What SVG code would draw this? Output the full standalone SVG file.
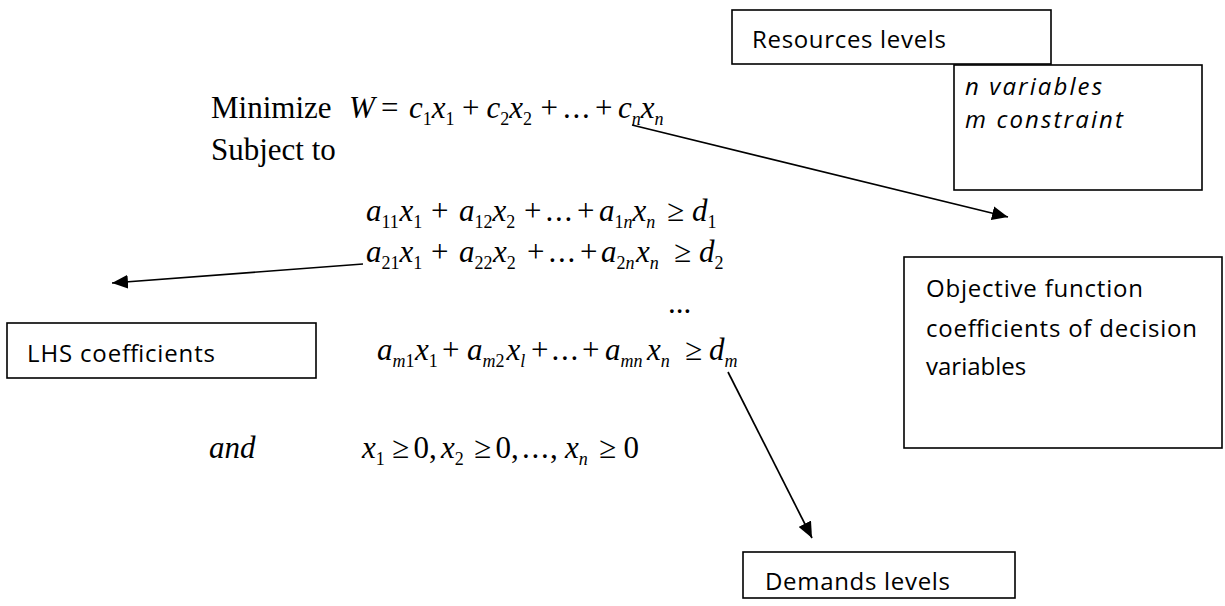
<svg xmlns="http://www.w3.org/2000/svg" width="1225" height="606" viewBox="0 0 1225 606">
<style>
.box{fill:#fff;stroke:#000;stroke-width:1.6}
.lbl{font-family:"Open Sans","Liberation Sans",sans-serif;font-size:24px;fill:#000}
.it{font-style:italic}
.m{font-family:"Liberation Serif","Times New Roman",serif;font-size:31px;fill:#000}
.s{font-size:18px}
.conn{stroke:#000;stroke-width:1.7;fill:none;marker-end:url(#ah)}
</style>
<defs>
<marker id="ah" markerUnits="userSpaceOnUse" markerWidth="18" markerHeight="14" refX="16" refY="7" orient="auto">
<path d="M0,0 L16,7 L0,14 Z" fill="#000"/>
</marker>
</defs>
<rect width="1225" height="606" fill="#fff"/>

<g id="equations">
<text class="m" y="118"><tspan x="211">Minimize</tspan><tspan class="it" x="349">W</tspan><tspan x="381">=</tspan><tspan class="it" x="409">c</tspan><tspan class="s" x="422.8" y="125">1</tspan><tspan class="it" x="431.8" y="118">x</tspan><tspan class="s" x="445.6" y="125">1</tspan><tspan x="462" y="118">+</tspan><tspan class="it" x="486.5">c</tspan><tspan class="s" x="500.3" y="125">2</tspan><tspan class="it" x="509.3" y="118">x</tspan><tspan class="s" x="523.1" y="125">2</tspan><tspan x="540.5" y="118">+</tspan><tspan x="563 572.5 582">...</tspan><tspan x="595">+</tspan><tspan class="it" x="618">c</tspan><tspan class="s it" x="631.8" y="125">n</tspan><tspan class="it" x="640.8" y="118">x</tspan><tspan class="s it" x="654.6" y="125">n</tspan></text>
<text class="m" x="211" y="160">Subject to</text>

<text class="m" y="221"><tspan class="it" x="366">a</tspan><tspan class="s" x="381.5" y="228">11</tspan><tspan class="it" x="399.5" y="221">x</tspan><tspan class="s" x="413.3" y="228">1</tspan><tspan x="431" y="221">+</tspan><tspan class="it" x="459">a</tspan><tspan class="s" x="474.5" y="228">12</tspan><tspan class="it" x="492.5" y="221">x</tspan><tspan class="s" x="506.3" y="228">2</tspan><tspan x="524" y="221">+</tspan><tspan x="545.5 555 564.5">...</tspan><tspan x="577">+</tspan><tspan class="it" x="599">a</tspan><tspan class="s" x="614.5" y="228">1</tspan><tspan class="s it" x="623.5" y="228">n</tspan><tspan class="it" x="632.5" y="221">x</tspan><tspan class="s it" x="646.3" y="228">n</tspan><tspan x="667" y="221">≥</tspan><tspan class="it" x="692">d</tspan><tspan class="s" x="707.5" y="228">1</tspan></text>

<text class="m" y="262"><tspan class="it" x="366">a</tspan><tspan class="s" x="381.5" y="269">21</tspan><tspan class="it" x="399.5" y="262">x</tspan><tspan class="s" x="413.3" y="269">1</tspan><tspan x="431" y="262">+</tspan><tspan class="it" x="459">a</tspan><tspan class="s" x="474.5" y="269">22</tspan><tspan class="it" x="493" y="262">x</tspan><tspan class="s" x="506.8" y="269">2</tspan><tspan x="527" y="262">+</tspan><tspan x="548.5 558 567.5">...</tspan><tspan x="580">+</tspan><tspan class="it" x="601">a</tspan><tspan class="s" x="616.5" y="269">2</tspan><tspan class="s it" x="625.5" y="269">n</tspan><tspan class="it" x="636" y="262">x</tspan><tspan class="s it" x="649.8" y="269">n</tspan><tspan x="674" y="262">≥</tspan><tspan class="it" x="699">d</tspan><tspan class="s" x="714.5" y="269">2</tspan></text>

<text class="m" x="668" y="313">...</text>

<text class="m" y="360"><tspan class="it" x="377">a</tspan><tspan class="s it" x="392.5" y="367">m</tspan><tspan class="s" x="405.5" y="367">1</tspan><tspan class="it" x="415" y="360">x</tspan><tspan class="s" x="428.8" y="367">1</tspan><tspan x="442" y="360">+</tspan><tspan class="it" x="467">a</tspan><tspan class="s it" x="482.5" y="367">m</tspan><tspan class="s" x="495.5" y="367">2</tspan><tspan class="it" x="506.5" y="360">x</tspan><tspan class="s it" x="520.3" y="367">l</tspan><tspan x="531" y="360">+</tspan><tspan x="551.5 561 570.5">...</tspan><tspan x="582">+</tspan><tspan class="it" x="605">a</tspan><tspan class="s it" x="620.5" y="367">mn</tspan><tspan class="it" x="647" y="360">x</tspan><tspan class="s it" x="660.8" y="367">n</tspan><tspan x="685" y="360">≥</tspan><tspan class="it" x="709">d</tspan><tspan class="s it" x="724.5" y="367">m</tspan></text>

<text class="m" y="458"><tspan class="it" x="209">and</tspan><tspan class="it" x="362">x</tspan><tspan class="s" x="375.8" y="465">1</tspan><tspan x="392" y="458">≥</tspan><tspan x="413.5">0,</tspan><tspan class="it" x="441">x</tspan><tspan class="s" x="454.8" y="465">2</tspan><tspan x="474" y="458">≥</tspan><tspan x="495.5">0,</tspan><tspan x="522 531.5 541 550">...,</tspan><tspan class="it" x="565">x</tspan><tspan class="s it" x="578.8" y="465">n</tspan><tspan x="599" y="458">≥</tspan><tspan x="623.5">0</tspan></text>
</g>

<g id="resources">
<rect class="box" x="732" y="10" width="319" height="54"/>
<text class="lbl" x="752" y="48" textLength="194">Resources levels</text>
</g>

<g id="nm">
<rect class="box" x="954" y="65" width="248" height="125"/>
<text class="lbl it" x="965" y="95" textLength="137">n variables</text>
<text class="lbl it" x="965" y="128" textLength="158">m constraint</text>
</g>

<g id="objective">
<rect class="box" x="904" y="257" width="318" height="191"/>
<text class="lbl" x="926" y="297" textLength="217">Objective function</text>
<text class="lbl" x="926" y="337" textLength="271">coefficients of decision</text>
<text class="lbl" x="926" y="375">variables</text>
</g>

<g id="lhs">
<rect class="box" x="7" y="323" width="309" height="55"/>
<text class="lbl" x="27" y="362" textLength="188">LHS coefficients</text>
</g>

<g id="demands">
<rect class="box" x="743" y="552" width="272" height="46"/>
<text class="lbl" x="765" y="590" textLength="185">Demands levels</text>
</g>

<g id="connectors">
<line class="conn" x1="632" y1="125" x2="1008" y2="217"/>
<line class="conn" x1="363" y1="264" x2="112" y2="283"/>
<line class="conn" x1="728" y1="372" x2="812" y2="538"/>
</g>
</svg>
